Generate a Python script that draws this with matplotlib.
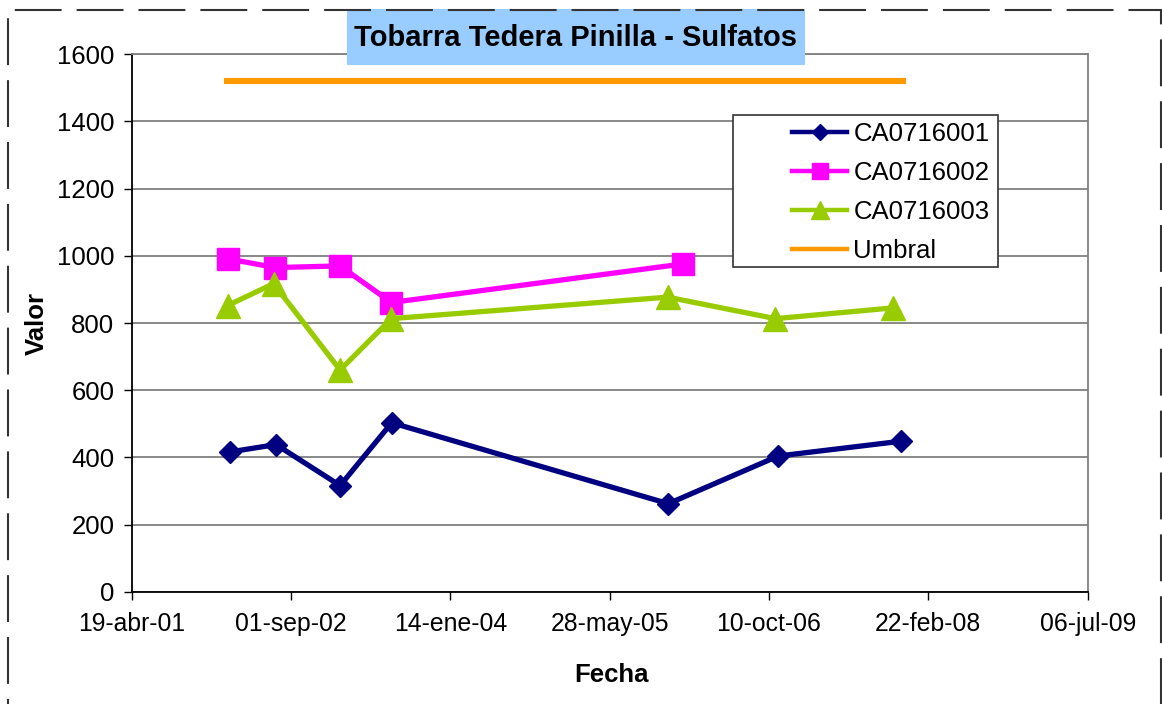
import numpy as np
import matplotlib
matplotlib.use("Agg")
import matplotlib.pyplot as plt
from matplotlib.patches import Rectangle
from datetime import datetime, timedelta

plt.rcParams['font.family'] = ['Liberation Sans', 'DejaVu Sans']

# data
fechas_001 = ['2002-02-20', '2002-07-16', '2003-02-02', '2003-07-14',
              '2005-11-28', '2006-11-08', '2007-11-28']
valores_001 = [416, 438, 316, 503, 262, 404, 448]

fechas_002 = ['2002-02-16', '2002-07-13', '2003-02-02', '2003-07-13', '2006-01-14']
valores_002 = [991, 965, 970, 861, 976]

fechas_003 = ['2002-02-14', '2002-07-08', '2003-02-02', '2003-07-13',
              '2005-11-26', '2006-10-30', '2007-11-03']
valores_003 = [852, 917, 660, 813, 877, 813, 845]

fechas_umbral = ['2002-02-12', '2007-12-04']
valores_umbral = [1520, 1520]

series = [
    ('CA0716001', fechas_001, valores_001, '#000080', 'D', 11.5),
    ('CA0716002', fechas_002, valores_002, '#FF00FF', 's', 16),
    ('CA0716003', fechas_003, valores_003, '#99CC00', '^', 17),
]

meses = ['ene', 'feb', 'mar', 'abr', 'may', 'jun',
         'jul', 'ago', 'sep', 'oct', 'nov', 'dic']

W, H = 1162, 704
fig = plt.figure(figsize=(W / 100, H / 100), dpi=100)
ax = fig.add_axes([131.7 / W, 1 - 591.7 / H, 956 / W, 537.4 / H])

def to_dt(lst):
    return [datetime.strptime(s, '%Y-%m-%d') for s in lst]

for nombre, f, v, c, m, ms in series:
    ax.plot(to_dt(f), v, color=c, lw=3.8, marker=m, ms=ms,
            label=nombre, zorder=3)
ax.plot(to_dt(fechas_umbral), valores_umbral, color='#FF9900', lw=4.4,
        label='Umbral', zorder=3)

x0 = datetime(2001, 4, 19)
ticks = [x0 + timedelta(days=500 * i) for i in range(7)]
ax.set_xlim(ticks[0], ticks[-1])
ax.set_xticks(ticks)
ax.set_xticklabels([f"{t.day:02d}-{meses[t.month - 1]}-{t.strftime('%y')}" for t in ticks])
ax.set_ylim(0, 1600)
ax.set_yticks(np.arange(0, 1601, 200))

ax.yaxis.grid(True, color='#808080', lw=1.3)
ax.set_axisbelow(True)
for s in ax.spines.values():
    s.set_color('#808080')
    s.set_linewidth(1.3)
ax.spines['left'].set_color('black')
ax.spines['bottom'].set_color('black')
ax.tick_params(axis='both', direction='out', length=5.5, width=1)
ax.tick_params(axis='x', pad=9, labelsize=17.8)
ax.tick_params(axis='y', pad=7, labelsize=18.5)

ax.set_xlabel('Fecha', fontsize=18.5, fontweight='bold')
ax.set_ylabel('Valor', fontsize=18.5, fontweight='bold')
ax.xaxis.set_label_coords(0.502, -0.133)
ax.yaxis.set_label_coords(-0.087, 0.5)

# legend with its own frame
leg = ax.legend(loc='upper left', bbox_to_anchor=((792 - 131.7) / 956, (591.7 - 122) / 537.4),
                frameon=False, fontsize=18.5, handlelength=2.15, handletextpad=0.24,
                labelspacing=0.58, borderaxespad=0, borderpad=0)
for h in leg.legend_handles:
    h.set_markersize(h.get_markersize() * 0.75)
    h.set_linewidth(3.2)
ax.add_patch(Rectangle(((733 - 131.7) / 956, (591.7 - 267) / 537.4),
                       (998 - 733) / 956, (267 - 115) / 537.4,
                       transform=ax.transAxes, facecolor='white',
                       edgecolor='#333333', lw=1.2, zorder=4))
leg.set_zorder(5)

# title box
fig.add_artist(Rectangle((347 / W, 1 - 65 / H), (805 - 347) / W, (65 - 9) / H,
                         transform=fig.transFigure, facecolor='#99CCFF',
                         edgecolor='none', zorder=1))
fig.text(576 / W, 1 - 38 / H, 'Tobarra Tedera Pinilla - Sulfatos', fontsize=21,
         fontweight='bold', ha='center', va='center', zorder=2)

# dashed border around the chart (bottom edge falls outside the image)
fig.add_artist(Rectangle((8 / W, 1 - 712 / H), (1161 - 8) / W, (712 - 10) / H,
                         transform=fig.transFigure, fill=False, edgecolor='#333333',
                         lw=1.5, linestyle=(0, (22.5, 7.2)), zorder=3))

fig.savefig('out.png', dpi=100)
